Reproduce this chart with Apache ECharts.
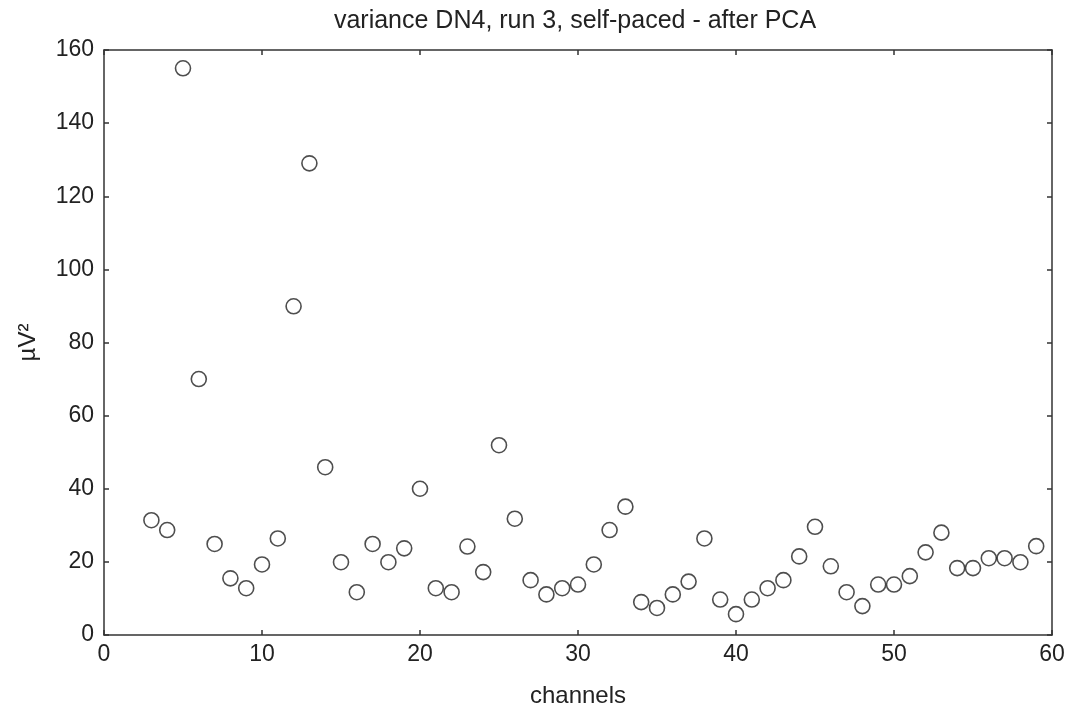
<!DOCTYPE html>
<html>
<head>
<meta charset="utf-8">
<title>variance DN4</title>
<script src="https://cdn.jsdelivr.net/npm/echarts@6/dist/echarts.min.js"></script>
<style>
    html, body { margin: 0; padding: 0; background: #fff; }
    #variance-chart { width: 1068px; height: 713px; }
</style>
</head>
<body>
<div id="variance-chart"></div>
<script>
    // channel numbers (x) and variance after PCA (y, µV²)
    var channels = [3, 4, 5, 6, 7, 8, 9, 10, 11, 12, 13, 14, 15, 16, 17, 18, 19, 20,
        21, 22, 23, 24, 25, 26, 27, 28, 29, 30, 31, 32, 33, 34, 35, 36, 37, 38, 39, 40,
        41, 42, 43, 44, 45, 46, 47, 48, 49, 50, 51, 52, 53, 54, 55, 56, 57, 58, 59];
    var variance = [31.4, 28.7, 155.0, 70.0, 24.9, 15.5, 12.8, 19.3, 26.4, 89.9, 129.0, 45.9,
        19.9, 11.7, 24.9, 19.9, 23.7, 40.0, 12.8, 11.7, 24.2, 17.2, 51.9, 31.8, 15.0, 11.1,
        12.8, 13.8, 19.3, 28.7, 35.1, 9.0, 7.4, 11.1, 14.6, 26.4, 9.7, 5.7, 9.7, 12.8, 15.0,
        21.5, 29.6, 18.8, 11.7, 7.9, 13.8, 13.8, 16.1, 22.6, 28.0, 18.3, 18.3, 21.0, 21.0,
        19.9, 24.3];

    var titleText = 'variance DN4, run 3, self-paced - after PCA';
    var xName = 'channels';
    var yName = 'µV²';

    var points = channels.map(function (c, i) { return [c, variance[i]]; });

    var font = 'Liberation Sans, Arial, sans-serif';
    var ink = '#222';
    // box frame: onZero off so the top axis stays on top
    var frame = { show: true, onZero: false, lineStyle: { color: '#333', width: 1.5 } };
    // ticks point into the box on all four sides
    var ticksIn = { show: true, inside: true, length: 5, lineStyle: { color: '#333', width: 1.5 } };

    var chart = echarts.init(document.getElementById('variance-chart'));
    var option = {
        backgroundColor: '#fff',
        animation: false,
        title: {
            text: titleText,
            left: 570,
            top: 4,
            textAlign: 'center',
            textStyle: { fontFamily: font, fontSize: 25, fontWeight: 'normal', color: ink }
        },
        grid: { left: 104, right: 16, top: 50, bottom: 72, containLabel: false },
        xAxis: [
            {
                type: 'value', min: 0, max: 60, interval: 10,
                position: 'bottom',
                name: xName, nameLocation: 'middle', nameGap: 49,
                nameTextStyle: { fontFamily: font, fontSize: 24, color: ink },
                axisLine: frame, axisTick: ticksIn,
                axisLabel: { fontFamily: font, fontSize: 23, color: ink, margin: 8 },
                splitLine: { show: false }
            },
            {
                type: 'value', min: 0, max: 60, interval: 10,
                position: 'top',
                axisLine: frame, axisTick: ticksIn,
                axisLabel: { show: false },
                splitLine: { show: false }
            }
        ],
        yAxis: [
            {
                type: 'value', min: 0, max: 160, interval: 20,
                position: 'left',
                name: yName, nameLocation: 'middle', nameGap: 64, nameRotate: 90,
                nameTextStyle: { fontFamily: font, fontSize: 24, color: ink },
                axisLine: frame, axisTick: ticksIn,
                axisLabel: { fontFamily: font, fontSize: 23, color: ink, margin: 10 },
                splitLine: { show: false }
            },
            {
                type: 'value', min: 0, max: 160, interval: 20,
                position: 'right',
                axisLine: frame, axisTick: ticksIn,
                axisLabel: { show: false },
                splitLine: { show: false }
            }
        ],
        series: [
            {
                name: 'variance',
                type: 'scatter',
                xAxisIndex: 0,
                yAxisIndex: 0,
                symbol: 'circle',
                symbolSize: 15,
                itemStyle: { color: '#fff', borderColor: '#222', borderWidth: 1.6 },
                data: points
            }
        ]
    };
    chart.setOption(option);
</script>
</body>
</html>
